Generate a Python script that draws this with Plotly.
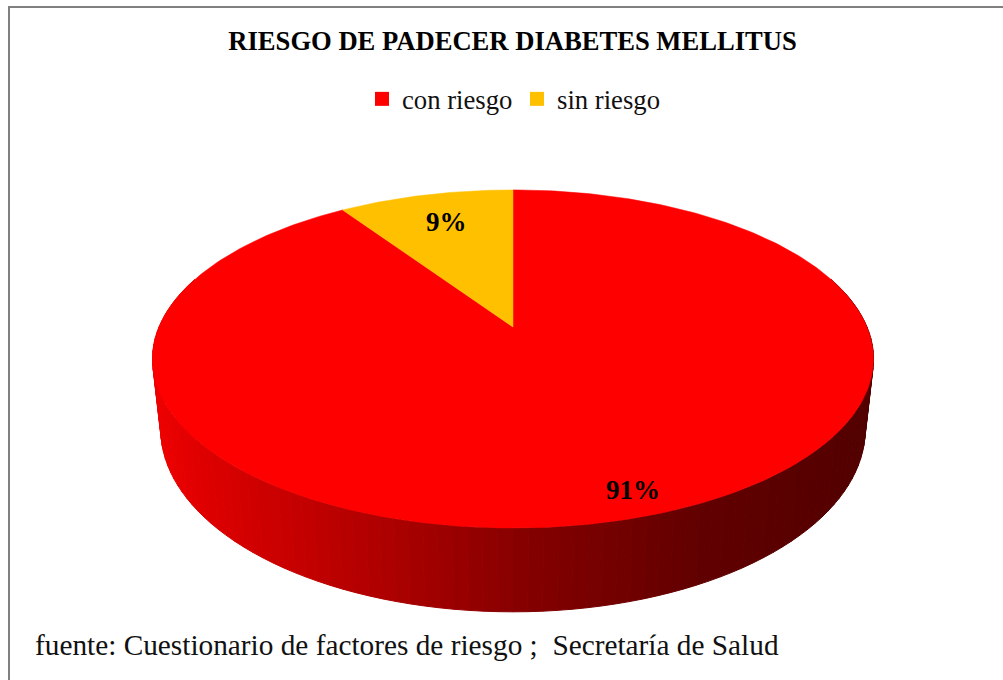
import numpy as np
import plotly.graph_objects as go

# --- data ---
categories = ["con riesgo", "sin riesgo"]
values = [90.6, 9.4]
slice_colors = ["#FF0000", "#FFC000"]
title_text = "RIESGO DE PADECER DIABETES MELLITUS"
source_text = "fuente: Cuestionario de factores de riesgo ;  Secretaría de Salud"

# --- drawing geometry (pixel canvas, perspective disc) ---
W, H = 1003, 680
CX, CY = 513.0, 327.0
R, B, K = 354.0, 163.0, 0.189
DEPTH, BOTTOM_X = 68.0, 0.977
FONT = "Liberation Serif"
shade_x = [150, 220, 400, 520, 700, 875]
shade_r = [240, 218, 170, 135, 98, 82]


def rim(theta, depth=0.0, xscale=1.0):
    """theta is measured clockwise from the top of the disc."""
    u, v = np.sin(theta), np.cos(theta)
    d = 1 + K * v
    return CX + xscale * R * u / d, CY + (depth - B * v) / d


fig = go.Figure()

# side wall, shaded left to right
edges = np.radians(np.linspace(72, 288, 109))
for a, b in zip(edges[:-1], edges[1:]):
    x1, y1 = rim(np.array([a, b]))
    x2, y2 = rim(np.array([b, a]), DEPTH, BOTTOM_X)
    xmid = (x1.mean() + x2.mean()) / 2
    c = f"rgb({int(np.interp(xmid, shade_x, shade_r))},0,0)"
    fig.add_trace(go.Scatter(
        x=[*x1, *x2, x1[0]], y=[*y1, *y2, y1[0]], mode="lines", fill="toself",
        fillcolor=c, line=dict(color=c, width=1), showlegend=False, hoverinfo="skip"))

# top face, one wedge per category, clockwise from 12 o'clock
order = [0, 1]
start = 0.0
total = sum(values)
for i in order:
    sweep = 2 * np.pi * values[i] / total
    t = np.linspace(start, start + sweep, max(int(values[i] * 4), 12))
    x, y = rim(t)
    fig.add_trace(go.Scatter(
        x=[CX, *x, CX], y=[CY, *y, CY], mode="lines", fill="toself",
        fillcolor=slice_colors[i], line=dict(color=slice_colors[i], width=0.5),
        showlegend=False, hoverinfo="skip"))
    start += sweep

# legend entries
for i in order:
    fig.add_trace(go.Scatter(
        x=[None], y=[None], mode="markers", name=categories[i],
        marker=dict(symbol="square", size=14, color=slice_colors[i])))

label_xy = [(633, 490), (446, 222)]
annotations = [
    dict(x=lx, y=ly, xref="x", yref="y", text=f"<b>{round(values[i])}%</b>",
         showarrow=False, font=dict(family=FONT, size=27, color="#000"))
    for i, (lx, ly) in zip(order, label_xy)
]
annotations.append(dict(x=33, y=645, xref="x", yref="y", xanchor="left",
                        text=source_text.replace("  ", "&nbsp; "), showarrow=False,
                        font=dict(family=FONT, size=29.3, color="#111")))

fig.update_layout(
    width=W, height=H, autosize=False,
    margin=dict(l=0, r=0, t=0, b=0),
    paper_bgcolor="white", plot_bgcolor="white",
    title=dict(text=f"<b>{title_text}</b>", x=0.511, xanchor="center",
               y=1 - 41 / H, yanchor="middle", font=dict(family=FONT, size=26.6, color="#000")),
    xaxis=dict(range=[0, W], visible=False, fixedrange=True),
    yaxis=dict(range=[H, 0], visible=False, fixedrange=True),
    legend=dict(orientation="h", x=362 / W, xanchor="left", y=1 - 99 / H, yanchor="middle",
                font=dict(family=FONT, size=26.7, color="#111"), bgcolor="rgba(0,0,0,0)",
                entrywidth=110, entrywidthmode="pixels"),
    shapes=[dict(type="rect", xref="x", yref="y", x0=9, y0=7, x1=1015, y1=690,
                 line=dict(color="#808080", width=2))],
    annotations=annotations,
)

fig.write_html("out.html", config={"displayModeBar": False},
               post_script="document.body.style.margin='0';document.documentElement.style.overflow='hidden';")
